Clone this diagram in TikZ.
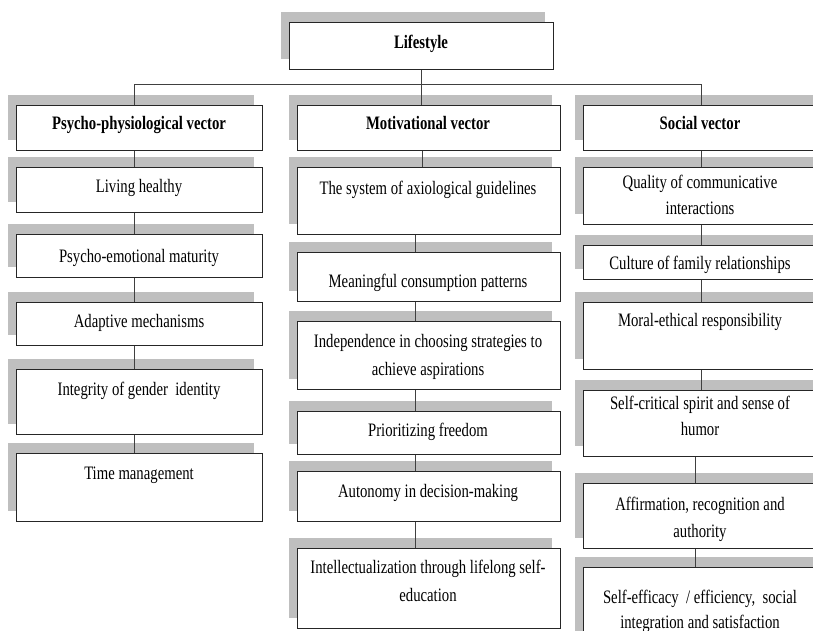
\documentclass[tikz,border=0pt]{standalone}
\usepackage{fontspec}
\setmainfont{Liberation Serif}[FakeStretch=0.775]
\tikzset{
  boxnode/.style={draw=black!85, fill=white, line width=0.9pt, inner sep=0pt, anchor=north west},
  shadefill/.style={fill=black!25},
  txt/.style={inner sep=0pt, anchor=base, font=\fontsize{19}{27}\selectfont},
  btxt/.style={inner sep=0pt, anchor=base, font=\fontsize{19}{27}\selectfont\bfseries},
  conn/.style={draw=black!75, line width=0.9pt}
}
\newcommand{\shbox}[5]{%
  \fill[shadefill] ({#2-8},{#3-10}) rectangle ({#4-8},{#5-10});
  \node[boxnode, minimum width={#4-#2}, minimum height={#5-#3}] (#1) at (#2,#3) {};
}
\newcommand{\twoln}[3]{\begin{tabular}[t]{@{}c@{}}#1\\[#3pt]#2\end{tabular}}
\begin{document}
\begin{tikzpicture}[x=1pt,y=-1pt]
\useasboundingbox (0,0) rectangle (813,631);
\clip (0,0) rectangle (813,631);
% top
\shbox{life}{289}{22}{553}{69}
\node[btxt] (lifet) at (421,48.5) {Lifestyle};
% column 1
\shbox{psy}{16}{105}{262}{150}
\shbox{c1a}{16}{167}{262}{212}
\shbox{c1b}{16}{234}{262}{277}
\shbox{c1c}{16}{302}{262}{345}
\shbox{c1d}{16}{369}{262}{434}
\shbox{c1e}{16}{453}{262}{521}
\node[btxt] (psyt) at (139,130) {Psycho-physiological vector};
\node[txt] (c1at) at (139,193) {Living healthy};
\node[txt] (c1bt) at (139,262) {Psycho-emotional maturity};
\node[txt] (c1ct) at (139,327) {Adaptive mechanisms};
\node[txt] (c1dt) at (139,395) {Integrity of gender~ identity};
\node[txt] (c1et) at (139,479) {Time management};
% column 2
\shbox{mot}{297}{105}{560}{150}
\shbox{c2a}{297}{167}{560}{234}
\shbox{c2b}{297}{252}{560}{301}
\shbox{c2c}{297}{321}{560}{389}
\shbox{c2d}{297}{411}{560}{454}
\shbox{c2e}{297}{471}{560}{521}
\shbox{c2f}{297}{548}{560}{628}
\node[btxt] (mott) at (428,130) {Motivational vector};
\node[txt] (c2at) at (428,194) {The system of axiological guidelines};
\node[txt] (c2bt) at (428,287) {Meaningful consumption patterns};
\node[txt] (c2ct) at (428,347) {\twoln{Independence in choosing strategies to}{achieve aspirations}{1}};
\node[txt] (c2dt) at (428,436) {Prioritizing freedom};
\node[txt] (c2et) at (428,497) {Autonomy in decision-making};
\node[txt] (c2ft) at (428,573) {\twoln{Intellectualization through lifelong self-}{education}{1}};
% column 3
\shbox{soc}{583}{105}{822}{150}
\shbox{c3a}{583}{167}{822}{224}
\shbox{c3b}{583}{245}{822}{279}
\shbox{c3c}{583}{302}{822}{369}
\shbox{c3d}{583}{390}{822}{456}
\shbox{c3e}{583}{483}{822}{548}
\shbox{c3f}{583}{567}{822}{660}
\node[btxt] (soct) at (700,130) {Social vector};
\node[txt] (c3at) at (700,189) {\twoln{Quality of communicative}{interactions}{-1}};
\node[txt] (c3bt) at (700,269) {Culture of family relationships};
\node[txt] (c3ct) at (700,326) {Moral-ethical responsibility};
\node[txt] (c3dt) at (700,409) {\twoln{Self-critical spirit and sense of}{humor}{-1}};
\node[txt] (c3et) at (700,510) {\twoln{Affirmation, recognition and}{authority}{0}};
\node[txt] (c3ft) at (700,603) {\twoln{Self-efficacy~ / efficiency,~ social}{integration and satisfaction}{-2}};
% connectors
\coordinate (bus) at ([yshift=-15pt]life.south);
\draw[conn] (life.south) -- (bus);
\draw[conn] ([xshift=-5pt]psy.north) |- (bus) -| ([xshift=-1.5pt]soc.north);
\draw[conn] (bus) -- (bus |- mot.north);
\foreach \a/\b in {psy/c1a, c1a/c1b, c1b/c1c, c1c/c1d, c1d/c1e}
  \draw[conn] ([xshift=-5pt]\a.south) -- ([xshift=-5pt]\b.north);
\draw[conn] ([xshift=-6.5pt]mot.south) -- ([xshift=-6.5pt]c2a.north);
\foreach \a/\b in {c2a/c2b, c2b/c2c, c2c/c2d, c2d/c2e, c2e/c2f}
  \draw[conn] ([xshift=-13.5pt]\a.south) -- ([xshift=-13.5pt]\b.north);
\foreach \a/\b in {soc/c3a, c3a/c3b, c3b/c3c, c3c/c3d}
  \draw[conn] ([xshift=-1.5pt]\a.south) -- ([xshift=-1.5pt]\b.north);
\foreach \a/\b in {c3d/c3e, c3e/c3f}
  \draw[conn] ([xshift=-7.5pt]\a.south) -- ([xshift=-7.5pt]\b.north);
\end{tikzpicture}
\end{document}
